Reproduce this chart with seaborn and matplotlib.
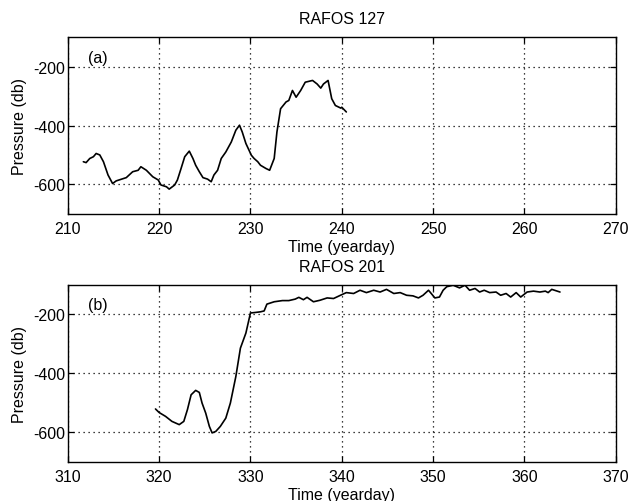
import numpy as np
import pandas as pd
import matplotlib
matplotlib.use("Agg")
import matplotlib.pyplot as plt
import seaborn as sns

# Panel (a): RAFOS 127
day_a = [211.7, 212.0, 212.4, 212.8, 213.1, 213.5, 213.9, 214.4, 214.9, 215.3, 215.9, 216.4,
         217.1, 217.7, 218.0, 218.6, 219.3, 219.9, 220.2, 220.8, 221.1, 221.7, 222.0, 222.4,
         222.8, 223.3, 223.7, 224.0, 224.4, 224.8, 225.3, 225.7, 226.0, 226.4, 226.8, 227.3,
         227.9, 228.4, 228.8, 229.1, 229.5, 230.1, 230.4, 230.8, 231.1, 231.7, 232.1, 232.6,
         232.9, 233.3, 233.9, 234.2, 234.6, 235.0, 235.5, 236.0, 236.8, 237.3, 237.7, 238.0,
         238.5, 238.9, 239.3, 239.9, 240.0, 240.5]
pres_a = [-523, -526, -512, -506, -495, -500, -523, -568, -597, -588, -582, -577,
          -557, -552, -540, -552, -574, -585, -602, -608, -616, -602, -585, -546,
          -506, -487, -512, -535, -557, -577, -582, -591, -568, -552, -512, -490,
          -456, -416, -399, -422, -461, -501, -512, -523, -535, -546, -552, -512,
          -422, -343, -320, -315, -281, -304, -281, -253, -247, -259, -273, -259,
          -247, -309, -332, -341, -338, -354]

# Panel (b): RAFOS 201
day_b = [319.6, 320.0, 320.7, 321.4, 322.2, 322.7, 323.1, 323.5, 324.0, 324.4, 324.7, 325.1,
         325.5, 325.8, 326.2, 326.7, 327.3, 327.8, 328.4, 328.9, 329.5, 330.0, 330.6, 331.1,
         331.5, 331.8, 332.6, 333.5, 334.2, 334.9, 335.3, 335.8, 336.2, 336.9, 337.6, 338.4,
         339.1, 340.0, 340.5, 341.3, 342.0, 342.7, 343.5, 344.2, 344.9, 345.7, 346.4, 347.1,
         347.8, 348.4, 348.9, 349.5, 349.8, 350.2, 350.7, 351.1, 351.5, 352.2, 352.9, 353.5,
         354.0, 354.6, 355.1, 355.6, 356.2, 356.9, 357.4, 358.0, 358.5, 359.1, 359.6, 360.3,
         361.0, 361.7, 362.3, 362.6, 363.0, 363.6, 363.9]
pres_b = [-521, -533, -546, -563, -574, -563, -523, -473, -458, -465, -501, -535,
          -580, -602, -597, -580, -552, -501, -411, -315, -264, -196, -194, -192,
          -189, -166, -158, -154, -154, -149, -143, -151, -143, -158, -153, -145,
          -147, -134, -127, -130, -119, -127, -119, -125, -116, -130, -127, -136,
          -138, -145, -136, -119, -130, -145, -142, -119, -107, -102, -111, -102,
          -119, -113, -125, -119, -127, -125, -136, -130, -142, -127, -142, -125,
          -122, -125, -122, -127, -116, -122, -125]

titles = ["RAFOS 127", "RAFOS 201"]
panel_labels = ["(a)", "(b)"]
xlims = [(210, 270), (310, 370)]
xticks = [[210, 220, 230, 240, 250, 260, 270], [310, 320, 330, 340, 350, 360, 370]]
yticks = [-600, -400, -200]

sns.set_style("white")
plt.rcParams['font.family'] = ['Liberation Sans', 'DejaVu Sans']
plt.rcParams['font.size'] = 11.5
plt.rcParams['axes.unicode_minus'] = False
plt.rcParams['text.color'] = 'black'
plt.rcParams['axes.labelcolor'] = 'black'
plt.rcParams['xtick.color'] = 'black'
plt.rcParams['ytick.color'] = 'black'

fig = plt.figure(figsize=(6.4, 5.02), dpi=100)
ax_a = fig.add_axes([0.106, 0.572, 0.856, 0.352])
ax_b = fig.add_axes([0.106, 0.078, 0.856, 0.353])

dfs = [pd.DataFrame({"day": day_a, "pres": pres_a}),
       pd.DataFrame({"day": day_b, "pres": pres_b})]
title_pads = [10, 9.5]

for ax, df, title, lab, xl, xt, tp in zip([ax_a, ax_b], dfs, titles, panel_labels,
                                          xlims, xticks, title_pads):
    sns.lineplot(data=df, x="day", y="pres", ax=ax, color="black", linewidth=1.2)
    ax.set_xlim(*xl)
    ax.set_ylim(-700, -100)
    ax.set_xticks(xt)
    ax.set_yticks(yticks)
    ax.grid(True, color="black", linestyle=(0, (1, 3)), linewidth=0.9)
    ax.tick_params(direction="in", length=4, width=0.9, colors="black", labelcolor="black",
                   labelsize=11.5, bottom=True, left=True, top=True, right=True)
    ax.tick_params(axis="x", pad=5)
    ax.tick_params(axis="y", pad=2)
    for s in ax.spines.values():
        s.set_color("black")
        s.set_linewidth(1.0)
    ax.set_title(title, fontsize=11.5, pad=tp, color="black")
    ax.set_xlabel("Time (yearday)", fontsize=11.5, labelpad=2, color="black")
    ax.set_ylabel("Pressure (db)", fontsize=11.5, labelpad=4, color="black")
    ax.text(0.036, 0.93, lab, transform=ax.transAxes, fontsize=11.5, va="top", ha="left",
            color="black")

fig.savefig("out.png", dpi=100, facecolor="white")
